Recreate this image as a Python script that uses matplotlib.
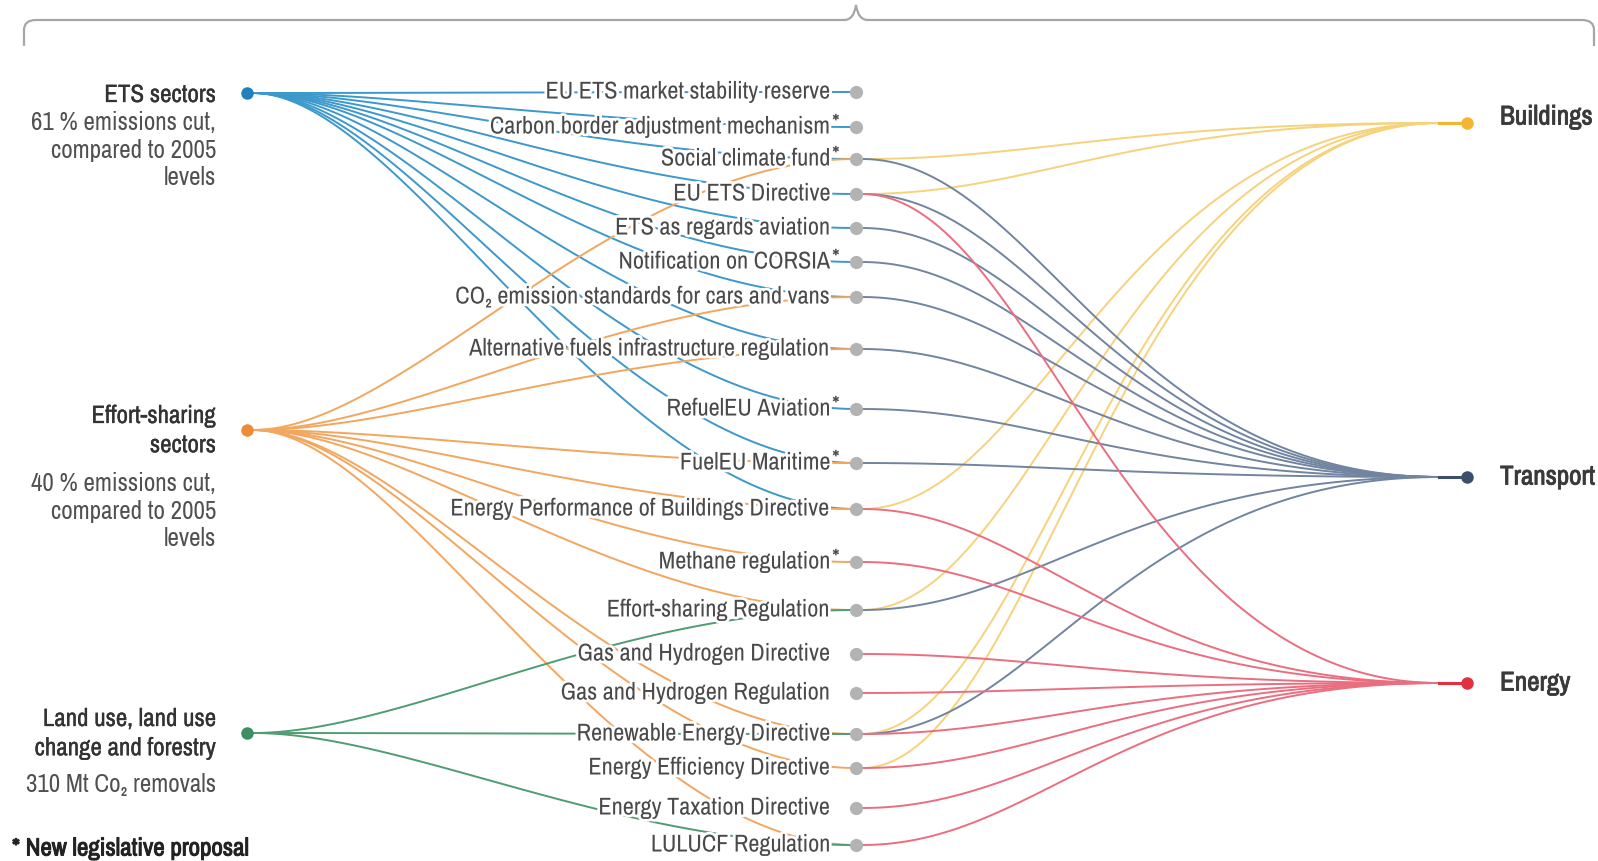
import numpy as np
import matplotlib.pyplot as plt
import matplotlib.patheffects as pe
from matplotlib import font_manager
from matplotlib.path import Path
from matplotlib.patches import PathPatch

# Fonts: the original uses a condensed face, take the narrowest we have
entries = font_manager.fontManager.ttflist
names = {f.name for f in entries}
narrow = None
for f in entries:
    if 'Narrow' in f.name or 'Condensed' in f.name:
        narrow = f.name
        break
if narrow is None:
    cond = [f for f in entries if f.stretch in ('condensed', 'semi-condensed', 587, 500)
            or 'ondensed' in str(f.fname)]
    if cond:
        narrow = cond[0].name
        plt.rcParams['font.stretch'] = 'condensed'
    else:
        narrow = 'Roboto' if 'Roboto' in names else 'DejaVu Sans'
plt.rcParams['font.family'] = [narrow, 'DejaVu Sans']

# ---- data ----
policies = [
    'EU ETS market stability reserve',
    'Carbon border adjustment mechanism',
    'Social climate fund',
    'EU ETS Directive',
    'ETS as regards aviation',
    'Notification on CORSIA',
    'CO\u2082 emission standards for cars and vans',
    'Alternative fuels infrastructure regulation',
    'RefuelEU Aviation',
    'FuelEU Maritime',
    'Energy Performance of Buildings Directive',
    'Methane regulation',
    'Effort-sharing Regulation',
    'Gas and Hydrogen Directive',
    'Gas and Hydrogen Regulation',
    'Renewable Energy Directive',
    'Energy Efficiency Directive',
    'Energy Taxation Directive',
    'LULUCF Regulation',
]
new_proposal = [False, True, True, False, False, True, False, False, True, True,
                False, True, False, False, False, False, False, False, False]

sources = ['ETS sectors', 'Effort-sharing sectors', 'LULUCF']
source_titles = ['ETS sectors', 'Effort-sharing\nsectors', 'Land use, land use\nchange and forestry']
source_notes = ['61 % emissions cut,\ncompared to 2005\nlevels',
                '40 % emissions cut,\ncompared to 2005\nlevels',
                '310 Mt Co\u2082 removals']
sectors = ['Buildings', 'Transport', 'Energy']

ets_links = [0, 1, 2, 3, 4, 5, 6, 7, 8, 9, 10]
esr_links = [2, 6, 7, 9, 10, 11, 12, 15, 16, 18]
lulucf_links = [12, 15, 18]
buildings_links = [2, 3, 10, 12, 15, 16]
transport_links = [2, 3, 4, 5, 6, 7, 8, 9, 12, 15]
energy_links = [3, 10, 11, 13, 14, 15, 16, 17, 18]

# ---- layout (pixel space) ----
W, H = 1598, 861
row_y = [92, 127, 159, 194, 228, 262, 297, 349, 409, 463, 509, 562, 610, 654, 693, 734, 768, 808, 845]
mid_x = 856
text_x = 831
src_x, src_y = 247, [93, 430, 733]
dst_x, dst_y = 1467, [123, 477, 683]
dst_label_dy = [-6, 0, 0]

src_node = ['#1f80bd', '#ef8a35', '#3b8f62']
src_line = ['#3d98cb', '#f2a65e', '#4f9d70']
dst_node = ['#f2b632', '#3b506d', '#e1303f']
dst_line = ['#f6d27c', '#7184a0', '#eb6e80']


def bezier(p0, p1, p2, p3, n=120):
    t = np.linspace(0, 1, n)[:, None]
    return ((1 - t) ** 3 * p0 + 3 * (1 - t) ** 2 * t * p1
            + 3 * (1 - t) * t ** 2 * p2 + t ** 3 * p3)


fig = plt.figure(figsize=(W / 100, H / 100), dpi=100)
ax = fig.add_axes([0, 0, 1, 1])
ax.set_xlim(0, W)
ax.set_ylim(H, 0)
ax.axis('off')

# left fans
for k, links in enumerate([ets_links, esr_links, lulucf_links]):
    x0, y0 = src_x + 6, src_y[k]
    for i in links:
        x1, y1 = mid_x, row_y[i]
        dx = x1 - x0
        c = bezier(np.array([x0, y0]), np.array([x0 + 0.25 * dx, y0]),
                   np.array([x0 + 0.6 * dx, y1]), np.array([x1, y1]))
        ax.plot(c[:, 0], c[:, 1], color=src_line[k], lw=1.4, zorder=1,
                solid_capstyle='butt')

# right fans
for k, links in enumerate([buildings_links, transport_links, energy_links]):
    x1, y1 = dst_x - 28, dst_y[k]
    for i in links:
        x0, y0 = mid_x + 6, row_y[i]
        dx = x1 - x0
        c = bezier(np.array([x0, y0]), np.array([x0 + 0.3 * dx, y0]),
                   np.array([x0 + 0.45 * dx, y1]), np.array([x1, y1]))
        ax.plot(c[:, 0], c[:, 1], color=dst_line[k], lw=1.4, zorder=1)
    ax.plot([x1, dst_x], [y1, y1], color=dst_node[k], lw=2.2, zorder=1)

halo = [pe.withStroke(linewidth=4, foreground='white')]

# policy labels and grey dots
for i, name in enumerate(policies):
    ax.text(text_x, row_y[i], name, ha='right', va='center', fontsize=17.5,
            color='#4a4a4a', zorder=3, path_effects=halo)
    if new_proposal[i]:
        ax.text(text_x + 1, row_y[i] - 3, '*', ha='left', va='center', fontsize=17.5,
                color='#4a4a4a', zorder=3, path_effects=halo)
    ax.plot(mid_x, row_y[i], 'o', ms=9.5, color='#b3b3b3', mec='none', zorder=4)


def faux_bold(color, w=0.7):
    return [pe.withStroke(linewidth=w, foreground=color)]


# source nodes and labels
for k in range(3):
    ax.plot(src_x, src_y[k], 'o', ms=9, color=src_node[k], mec='none', zorder=4)
t_top = [96, 417, 720]
n_top = [124, 485, 786]
for k in range(3):
    ax.text(216, t_top[k] - 13, source_titles[k], ha='right', va='top', fontsize=18,
            color='#333333', linespacing=1.33, path_effects=faux_bold('#333333', 0.2))
    ax.text(216, n_top[k] - 13, source_notes[k], ha='right', va='top', fontsize=18,
            color='#505050', linespacing=1.24)

# sector nodes and labels
for k in range(3):
    ax.plot(dst_x, dst_y[k], 'o', ms=9, color=dst_node[k], mec='none', zorder=4)
    ax.text(1500, dst_y[k] + dst_label_dy[k], sectors[k], ha='left', va='center',
            fontsize=19.5, color='#3a3a3a', path_effects=faux_bold('#3a3a3a', 0.6))

ax.text(12, 848, '* New legislative proposal', ha='left', va='center', fontsize=18,
        color='#222222', path_effects=faux_bold('#222222', 0.7))

# top brace
verts = [(24, 46), (24, 30), (24, 20), (36, 20), (844, 20), (854, 20), (856, 5),
         (858, 20), (868, 20), (1582, 20), (1594, 20), (1594, 30), (1594, 46)]
codes = [Path.MOVETO, Path.LINETO, Path.CURVE3, Path.CURVE3, Path.LINETO,
         Path.CURVE3, Path.CURVE3, Path.CURVE3, Path.CURVE3, Path.LINETO,
         Path.CURVE3, Path.CURVE3, Path.LINETO]
ax.add_patch(PathPatch(Path(verts, codes), fill=False, edgecolor='#a6a6a6', lw=1.6))

fig.savefig('out.png', dpi=100, facecolor='white')
